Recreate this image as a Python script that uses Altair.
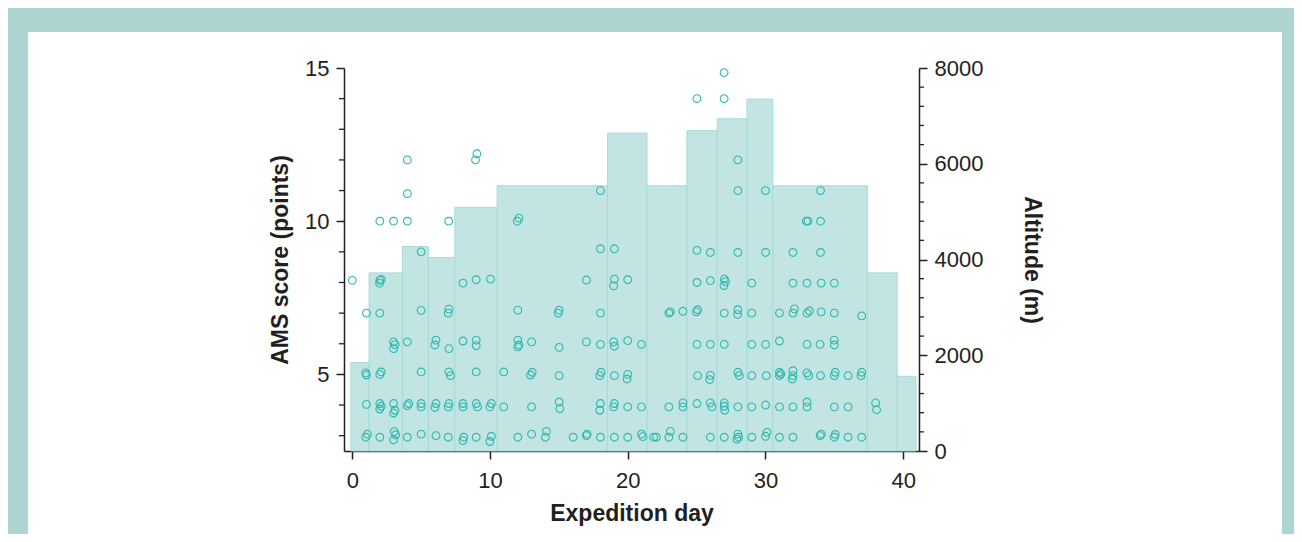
import altair as alt
import pandas as pd

# ---- altitude profile (bars) ----
bar_start = [-0.1, 1.22, 3.64, 5.52, 7.45, 10.52, 18.54, 21.4, 24.3, 26.5, 28.66, 30.54, 37.4, 39.57]
bar_end = [1.22, 3.64, 5.52, 7.45, 10.52, 18.54, 21.4, 24.3, 26.5, 28.66, 30.54, 37.4, 39.57, 40.93]
bar_alt = [1850, 3720, 4270, 4040, 5090, 5540, 6640, 5540, 6690, 6940, 7350, 5540, 3720, 1560]

# ---- AMS scores (points) ----
day = [
    0.0,
    1.03, 0.98, 1.03, 1.03, 0.98, 1.1,
    2.0, 2.1, 1.98, 2.0, 2.0, 2.1, 2.0, 2.0, 2.1, 2.0, 2.0,
    3.0, 3.1, 3.0, 3.0, 3.1, 3.0, 3.05, 3.0, 3.15, 3.0,
    4.0, 4.0, 4.1, 4.0, 4.0, 4.0, 4.0,
    5.0, 5.0, 5.0, 5.0, 5.0, 5.0,
    6.08, 6.0, 6.08, 6.0, 6.08,
    7.02, 6.97, 7.02, 7.02, 7.14, 7.02, 6.97, 6.97, 7.0,
    8.04, 8.04, 8.04, 8.04, 8.04, 8.1,
    9.0, 9.0, 9.0, 9.0, 9.0, 9.1, 9.0, 8.95, 9.05,
    10.04, 10.1, 9.99, 9.99, 10.1,
    11.0, 11.0,
    12.02, 12.02, 12.02, 12.1, 12.02, 11.98, 12.1,
    13.02, 12.94, 13.06, 13.02, 13.02,
    14.03, 14.1,
    15.02, 14.95, 15.02, 15.02, 15.02, 15.07,
    16.04,
    17.0, 17.0, 17.05, 17.0,
    18.02, 18.02, 18.02, 17.97, 18.07, 18.02, 17.97, 18.02, 18.02,
    19.03, 19.03, 18.98, 18.98, 19.03, 19.03, 19.03, 18.98, 19.03,
    20.0, 20.0, 20.0, 19.95, 20.0, 20.0,
    21.0, 21.0, 21.0, 21.1,
    21.89, 22.08,
    22.99, 23.09, 22.99, 22.99, 23.09,
    24.01, 24.01, 24.01, 24.01,
    25.03, 25.03, 24.98, 25.08, 25.03, 25.08, 25.03, 25.03,
    26.0, 26.0, 26.0, 26.0, 25.95, 26.0, 26.12, 26.0,
    27.01, 27.09, 26.99, 27.01, 27.01, 27.01, 27.01, 27.04, 27.01, 27.0, 27.0,
    28.0, 28.0, 27.98, 28.0, 28.1, 28.0, 28.0, 27.93, 28.05, 28.0, 28.0,
    29.01, 29.01, 29.01, 29.01, 29.01, 29.01,
    30.01, 30.01, 30.06, 30.01, 30.01, 30.11, 30.0,
    31.02, 31.02, 31.02, 31.02, 31.12, 31.02, 31.02,
    32.0, 32.0, 32.0, 32.1, 32.0, 32.0, 31.95, 32.0, 32.0,
    33.02, 33.02, 33.19, 33.02, 33.02, 33.14, 33.02, 33.02, 32.97, 33.09,
    34.0, 34.05, 34.05, 33.97, 34.0, 33.97, 34.05, 34.0, 34.0,
    35.0, 35.0, 35.0, 35.0, 35.0, 35.07, 35.0, 35.0, 35.07,
    36.0, 36.0, 36.0,
    36.99, 36.99, 36.94, 36.99,
    38.0, 38.07,
]
score = [
    8.07,
    7.0, 5.05, 4.98, 4.02, 2.95, 3.05,
    8.07, 8.1, 7.98, 7.0, 5.0, 5.08, 4.05, 3.87, 3.96, 2.95, 10.0,
    6.06, 5.97, 5.84, 4.05, 3.83, 3.74, 3.13, 2.86, 3.03, 10.0,
    6.06, 3.98, 4.05, 2.95, 10.0, 10.9, 12.0,
    9.0, 7.09, 5.08, 4.05, 3.94, 3.05,
    6.12, 5.96, 4.05, 3.92, 3.0,
    7.13, 7.0, 5.84, 5.08, 4.96, 4.05, 3.94, 2.95, 10.0,
    7.98, 6.09, 4.05, 3.94, 2.84, 2.95,
    8.09, 6.12, 5.94, 5.08, 4.05, 3.94, 2.95, 12.0, 12.2,
    8.11, 4.05, 3.94, 2.81, 2.98,
    5.08, 3.94,
    7.1, 6.12, 5.9, 5.96, 2.95, 10.0, 10.1,
    6.06, 4.98, 5.07, 3.94, 3.05,
    2.95, 3.14,
    7.1, 7.0, 5.88, 4.96, 4.1, 3.88,
    2.95,
    8.08, 6.06, 3.05, 3.0,
    9.1, 7.0, 5.98, 4.96, 5.07, 4.05, 3.83, 2.95, 11.0,
    9.1, 8.11, 7.89, 6.06, 5.92, 4.96, 4.05, 3.94, 2.95,
    8.09, 6.1, 5.0, 4.85, 3.94, 2.95,
    5.98, 3.94, 3.05, 2.97,
    2.95, 2.95,
    7.0, 7.04, 3.94, 2.95, 3.14,
    7.06, 4.07, 3.94, 2.95,
    9.05, 8.0, 7.04, 7.11, 5.98, 4.96, 4.05, 14.0,
    8.98, 8.06, 5.98, 4.97, 4.83, 4.07, 3.94, 2.95,
    8.11, 8.03, 7.9, 7.0, 5.98, 4.07, 3.96, 3.83, 2.95, 14.0, 14.85,
    8.98, 7.11, 6.96, 5.07, 4.96, 3.94, 3.05, 2.89, 2.95, 11.0, 12.0,
    7.98, 7.0, 5.98, 4.96, 3.94, 2.95,
    8.98, 5.98, 4.96, 4.0, 2.98, 3.11, 11.0,
    7.0, 6.09, 5.07, 4.96, 5.02, 3.94, 2.95,
    8.98, 7.98, 7.0, 7.14, 5.12, 4.96, 4.85, 3.94, 2.95,
    7.98, 7.0, 7.07, 5.98, 5.05, 4.96, 4.1, 3.94, 10.0, 10.0,
    8.98, 7.98, 7.04, 5.98, 4.96, 3.0, 3.05, 11.0, 10.0,
    7.98, 7.0, 6.12, 5.96, 4.96, 5.07, 3.94, 2.95, 3.04,
    4.96, 3.94, 2.95,
    6.91, 5.07, 4.96, 2.95,
    4.07, 3.85,
]

left_major = [5, 10, 15]
left_minor = [3, 4, 6, 7, 8, 9, 11, 12, 13, 14]
right_major = [0, 2000, 4000, 6000, 8000]
right_minor = [400, 800, 1200, 1600, 2400, 2800, 3200, 3600, 4400, 4800, 5200, 5600, 6400, 6800, 7200, 7600]
x_ticks = [0, 10, 20, 30, 40]

X_DOM = [-0.6, 41.15]
L_DOM = [2.5, 15]
R_DOM = [0, 8000]
W, H = 575, 383
AX = "#231f20"
FONT = "Liberation Sans"
TEAL_PT = "#2fb8ad"
BAR_FILL = "#c2e5e4"
FRAME = "#acd4d0"

bars = pd.DataFrame({"start": bar_start, "end": bar_end, "alt": bar_alt})
pts = pd.DataFrame({"day": day, "score": score})
lmin = pd.DataFrame({"v": left_minor})
rmin = pd.DataFrame({"v": right_minor})
one = pd.DataFrame({"a": [0]})

# teal frame strips around the white panel (decoration, in pixels)
frame_top = alt.Chart(one).mark_rect(color=FRAME).encode(
    x=alt.value(-340), x2=alt.value(960), y=alt.value(-64), y2=alt.value(-36))
frame_left = alt.Chart(one).mark_rect(color=FRAME).encode(
    x=alt.value(-340), x2=alt.value(-316), y=alt.value(-64), y2=alt.value(480))
frame_right = alt.Chart(one).mark_rect(color=FRAME).encode(
    x=alt.value(938), x2=alt.value(960), y=alt.value(-64), y2=alt.value(480))

bar_layer = alt.Chart(bars).mark_rect(
    fill=BAR_FILL, stroke="#a6dad7", strokeWidth=1
).encode(
    x=alt.X("start:Q", scale=alt.Scale(domain=X_DOM, nice=False, zero=False),
            axis=alt.Axis(values=x_ticks, title="Expedition day", grid=False,
                          tickSize=8, labelPadding=11, titlePadding=11, format="d")),
    x2="end:Q",
    y=alt.Y("alt:Q", scale=alt.Scale(domain=R_DOM, nice=False),
            axis=alt.Axis(orient="right", values=right_major, title="Altitude (m)",
                          grid=False, tickSize=8, labelPadding=7, titlePadding=37,
                          format="d")),
    y2=alt.datum(0),
)

rminor_layer = alt.Chart(rmin).mark_rule(color=AX, strokeWidth=1.3).encode(
    y=alt.Y("v:Q", scale=alt.Scale(domain=R_DOM, nice=False), axis=None),
    x=alt.value(W), x2=alt.value(W + 5),
)

lminor_layer = alt.Chart(lmin).mark_rule(color=AX, strokeWidth=1.3).encode(
    y=alt.Y("v:Q", scale=alt.Scale(domain=L_DOM, nice=False, zero=False), axis=None),
    x=alt.value(-5), x2=alt.value(0),
)

pt_layer = alt.Chart(pts).mark_point(
    shape="circle", filled=False, size=60, stroke=TEAL_PT, strokeWidth=1.1, opacity=1
).encode(
    x=alt.X("day:Q", scale=alt.Scale(domain=X_DOM, nice=False, zero=False)),
    y=alt.Y("score:Q", scale=alt.Scale(domain=L_DOM, nice=False, zero=False),
            axis=alt.Axis(orient="left", values=left_major, title="AMS score (points)",
                          grid=False, tickSize=8, labelPadding=7, titlePadding=12,
                          format="d")),
)

chart = alt.layer(
    bar_layer, pt_layer, rminor_layer, lminor_layer, frame_top, frame_left, frame_right
).resolve_scale(
    y="independent"
).properties(
    width=W, height=H,
    autosize=alt.AutoSizeParams(type="none"),
    padding={"left": 336, "top": 60, "right": 375, "bottom": 83},
    background="white",
).configure_view(
    strokeWidth=0
).configure_axis(
    domainColor=AX, domainWidth=1.5, tickColor=AX, tickWidth=1.5,
    labelColor=AX, labelFont=FONT, labelFontSize=22,
    titleColor=AX, titleFont=FONT, titleFontSize=23, titleFontWeight="bold",
)

chart.save("out.html", embed_options={"renderer": "svg", "actions": False})
